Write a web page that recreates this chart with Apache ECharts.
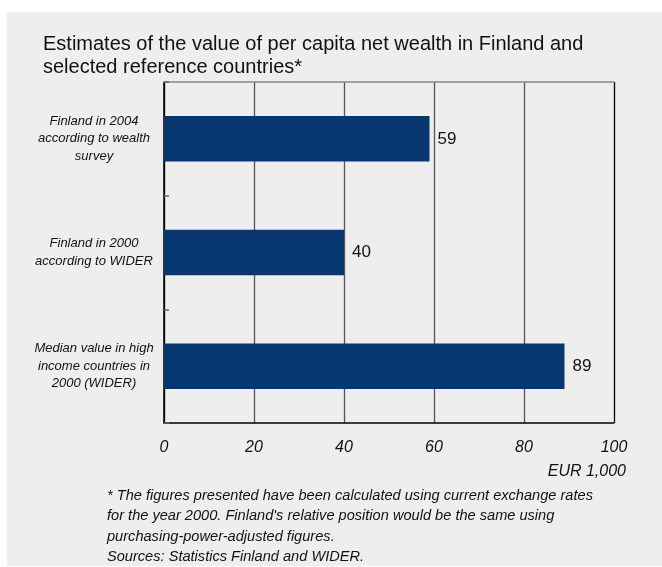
<!DOCTYPE html>
<html>
<head>
<meta charset="utf-8">
<script src="https://cdn.jsdelivr.net/npm/echarts@6/dist/echarts.min.js"></script>
<style>
html,body{margin:0;padding:0;background:#ffffff;}
#chart{width:662px;height:567px;}
</style>
</head>
<body>
<div id="chart"></div>
<script>
var categories = [
  'Finland in 2004\naccording to wealth\nsurvey',
  'Finland in 2000\naccording to WIDER',
  'Median value in high\nincome countries in\n2000 (WIDER)'
];
var values = [59, 40, 89];
var xTicks = [0, 20, 40, 60, 80, 100];
var titleText = 'Estimates of the value of per capita net wealth in Finland and\nselected reference countries*';
var unitText = 'EUR 1,000';
var footnote = "* The figures presented have been calculated using current exchange rates\nfor the year 2000. Finland's relative position would be the same using\npurchasing-power-adjusted figures.\nSources: Statistics Finland and WIDER.";
var chartLabel = 'Chart 1';

var FONT = '"Liberation Sans", Arial, sans-serif';
var chart = echarts.init(document.getElementById('chart'), null, {renderer: 'canvas'});
chart.setOption({
  animation: false,
  backgroundColor: '#ffffff',
  textStyle: {fontFamily: FONT},
  title: {
    text: titleText,
    left: 43, top: 33, padding: 0,
    textStyle: {fontFamily: FONT, fontSize: 20, fontWeight: 'normal', lineHeight: 23, color: '#111111'}
  },
  graphic: [
    {type: 'rect', z: -10, silent: true, shape: {x: 7, y: 12, width: 660, height: 554}, style: {fill: '#eeeeee'}},
    {type: 'text', z: -5, left: 14, top: -17, style: {text: chartLabel, font: 'bold 20px ' + FONT, fill: '#c4c4c4'}},
    {type: 'text', right: 36, top: 464, style: {text: unitText, font: 'italic 16px ' + FONT, fill: '#111111', textAlign: 'right'}},
    {type: 'text', left: 107, top: 486, style: {text: footnote, font: 'italic 14.6px ' + FONT, lineHeight: 20.2, fill: '#111111'}}
  ],
  grid: {left: 164, top: 82, width: 450, height: 341, containLabel: false},
  xAxis: [{
    type: 'value', position: 'bottom', min: 0, max: 100, interval: 20,
    axisLine: {show: true, lineStyle: {color: '#000000', width: 1.5}},
    axisTick: {show: false},
    axisLabel: {
      fontFamily: FONT, fontSize: 16, fontStyle: 'italic', color: '#111111', margin: 17,
      formatter: function (v) { return xTicks.indexOf(v) >= 0 ? String(v) : ''; }
    },
    splitLine: {show: true, lineStyle: {color: ['#000000', '#555555', '#555555', '#555555', '#555555', '#000000'], width: 1.3}}
  }, {
    type: 'value', position: 'top', min: 0, max: 100, interval: 20,
    axisLine: {show: true, lineStyle: {color: '#888888', width: 1.5}},
    axisTick: {show: false}, axisLabel: {show: false}, splitLine: {show: false}
  }],
  yAxis: {
    type: 'category', inverse: true, data: categories,
    axisLine: {show: true, lineStyle: {color: '#000000', width: 1.5}},
    axisTick: {show: true, inside: true, length: 5, lineStyle: {color: '#666666', width: 1.5}},
    axisLabel: {
      margin: 11,
      formatter: function (v) { return v.split('\n').map(function (s) { return '{a|' + s + '}'; }).join('\n'); },
      rich: {a: {fontFamily: FONT, fontSize: 13, fontStyle: 'italic', color: '#111111', width: 118, align: 'center', lineHeight: 17.5}}
    }
  },
  series: [{
    type: 'bar', xAxisIndex: 0, data: values, barWidth: '40%',
    itemStyle: {color: '#08366f'},
    label: {show: true, position: 'right', distance: 8, fontFamily: FONT, fontSize: 17, color: '#111111'}
  }]
});
</script>
</body>
</html>
